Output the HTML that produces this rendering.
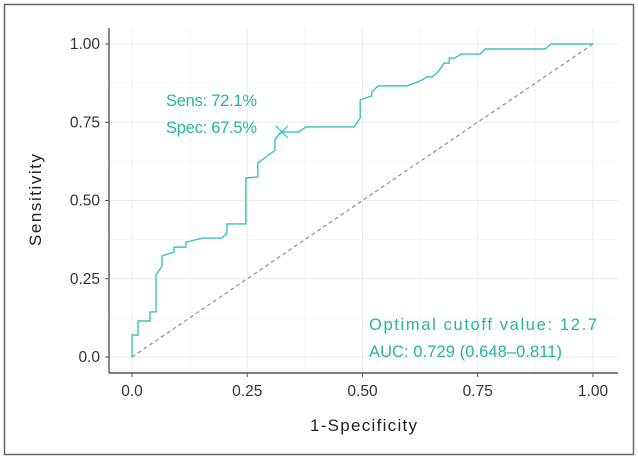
<!DOCTYPE html>
<html><head><meta charset="utf-8"><style>
html,body{margin:0;padding:0;background:#fff;}
svg{display:block;font-family:"Liberation Sans",sans-serif;}
</style></head><body>
<svg id="chart" width="638" height="460"></svg>
<script>
const xTicks=[0,0.25,0.5,0.75,1];
const yTicks=[0,0.25,0.5,0.75,1];
const xTickLabels=["0.0","0.25","0.50","0.75","1.00"];
const yTickLabels=["0.0","0.25","0.50","0.75","1.00"];
const fpr=[0,0,0.013,0.013,0.039,0.039,0.052,0.052,0.065,0.065,0.091,0.091,0.117,0.117,0.154,0.195,0.206,0.206,0.247,0.247,0.273,0.273,0.31,0.31,0.321,0.325,0.362,0.377,0.482,0.495,0.495,0.52,0.52,0.534,0.597,0.625,0.64,0.651,0.664,0.677,0.688,0.688,0.7,0.714,0.755,0.766,0.896,0.909,1];
const tpr=[0,0.07,0.07,0.115,0.115,0.144,0.144,0.262,0.29,0.323,0.335,0.351,0.351,0.367,0.38,0.38,0.396,0.425,0.425,0.572,0.575,0.62,0.66,0.693,0.716,0.719,0.719,0.735,0.735,0.764,0.821,0.834,0.847,0.866,0.866,0.882,0.895,0.895,0.911,0.939,0.939,0.955,0.955,0.968,0.968,0.984,0.984,1,1];
const cutoff=[0.325,0.719];

const NS="http://www.w3.org/2000/svg";
const svg=document.getElementById('chart');
const X0=132,X1=593,Y0=357,Y1=44;
const sx=v=>X0+(X1-X0)*v, sy=v=>Y0-(Y0-Y1)*v;
function mk(t,a){const e=document.createElementNS(NS,t);for(const k in a)e.setAttribute(k,a[k]);svg.appendChild(e);return e;}

let e=mk('rect',{x:4.5,y:4.5,width:629,height:450,fill:'none',stroke:'#666','stroke-width':1.5});



xTicks.forEach((t,i)=>{
  const g=mk('line',{x1:sx(t),x2:sx(t),y1:28,y2:373,stroke:'#ebebeb','stroke-width':1});
  
  
  if(i<xTicks.length-1){const m=(t+xTicks[i+1])/2;
    const g2=mk('line',{x1:sx(m),x2:sx(m),y1:28,y2:373,stroke:'#f3f3f3','stroke-width':0.7});
    
    }
});
yTicks.forEach((t,i)=>{
  const g=mk('line',{x1:109,x2:618,y1:sy(t),y2:sy(t),stroke:'#ebebeb','stroke-width':1});
  
  
  if(i<yTicks.length-1){const m=(t+yTicks[i+1])/2;
    const g2=mk('line',{x1:109,x2:618,y1:sy(m),y2:sy(m),stroke:'#f3f3f3','stroke-width':0.7});
    
    }
});

e=mk('line',{x1:sx(0),y1:sy(0),x2:sx(1),y2:sy(1),stroke:'#999','stroke-width':1.3,'stroke-dasharray':'4,3'});



e=mk('polyline',{points:fpr.map((v,i)=>sx(v)+','+sy(tpr[i])).join(' '),fill:'none',stroke:'#3cc1c4','stroke-width':1.4});



const cx=sx(cutoff[0]),cy=sy(cutoff[1]);
e=mk('path',{d:`M${cx-6},${cy-6}L${cx+6},${cy+6}M${cx-6},${cy+6}L${cx+6},${cy-6}`,stroke:'#3cc1c4','stroke-width':1.2,fill:'none'});



e=mk('line',{x1:109,x2:109,y1:28,y2:373,stroke:'#555','stroke-width':1.4});


e=mk('line',{x1:109,x2:618,y1:373,y2:373,stroke:'#555','stroke-width':1.4});



xTicks.forEach((t,i)=>{
  const l=mk('line',{x1:sx(t),x2:sx(t),y1:373,y2:377,stroke:'#555'});
  
  
  const tx=mk('text',{x:sx(t),y:396,'text-anchor':'middle','font-size':15.5,fill:'#333'});
  tx.textContent=xTickLabels[i];
  
  
});
yTicks.forEach((t,i)=>{
  const l=mk('line',{x1:105,x2:109,y1:sy(t),y2:sy(t),stroke:'#555'});
  
  
  const tx=mk('text',{x:100,y:sy(t)+5,'text-anchor':'end','font-size':15.5,fill:'#333'});
  tx.textContent=yTickLabels[i];
  
  
});

e=mk('text',{x:310,y:431,'font-size':17,fill:'#222',textLength:107,lengthAdjust:'spacing'});
e.textContent='1-Specificity';


e=mk('text',{x:-246,y:41,'font-size':17,fill:'#222',transform:'rotate(-90)',textLength:92,lengthAdjust:'spacing'});
e.textContent='Sensitivity';



const ann=[['Sens: 72.1%',166,106,'sensitivity-annotation',91],['Spec: 67.5%',166,133,'specificity-annotation',91],['Optimal cutoff value: 12.7',369,330,'cutoff-annotation',228],['AUC: 0.729 (0.648–0.811)',369,357,'auc-annotation',193]];
ann.forEach(a=>{
  const t=mk('text',{x:a[1],y:a[2],'font-size':16.5,fill:'#25b59c',textLength:a[4],lengthAdjust:'spacing'});
  t.textContent=a[0];
  
  
});
</script>
</body></html>
